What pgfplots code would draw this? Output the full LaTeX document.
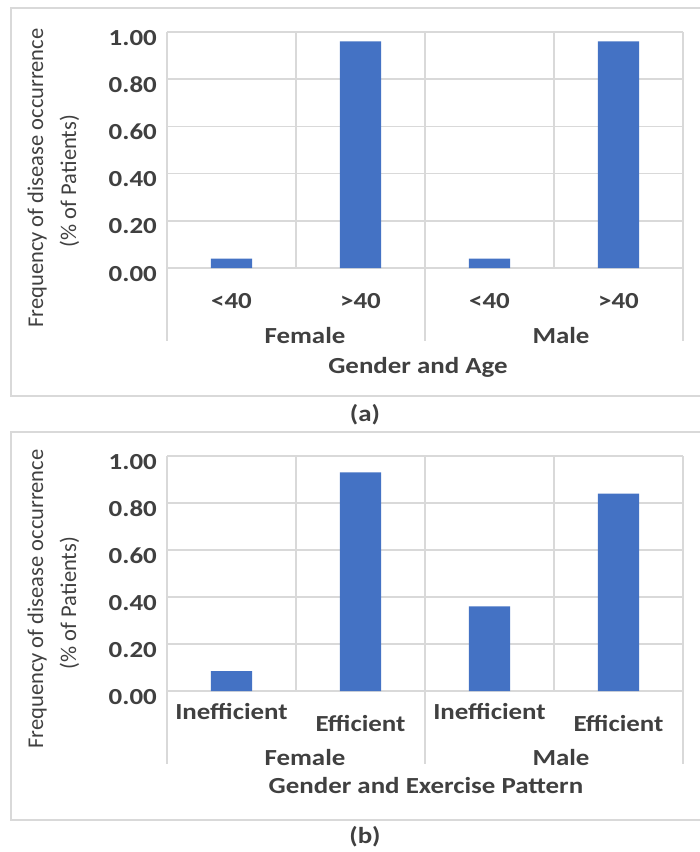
\documentclass[border=0pt]{standalone}
\usepackage{pgfplots}
\usepackage{pgfplotstable}
\pgfplotsset{compat=1.18}
\usepackage{fontspec}
\setmainfont{Carlito}
\newfontfamily\wfont{Carlito}[FakeStretch=1.17]
\definecolor{barc}{HTML}{4472C4}
\definecolor{gridc}{HTML}{D9D9D9}
\definecolor{txt}{HTML}{404040}
\newcommand\lblfont{\wfont\bfseries\fontsize{23}{27}\selectfont\color{txt}}
\newcommand\ylfont{\fontsize{22.5}{33}\selectfont\color{txt}}

\pgfplotstableread{
x y
0 0.04
1 0.96
2 0.04
3 0.96
}\dataA
\pgfplotstableread{
x y
0 0.085
1 0.93
2 0.36
3 0.84
}\dataB

\pgfplotsset{
 panel/.style={
  scale only axis, width=516pt, anchor=south west,
  xmin=-0.5, xmax=3.5, ymin=0, ymax=1,
  axis line style={draw=none},
  major tick length=0pt,
  ytick={0,0.2,0.4,0.6,0.8,1},
  ymajorgrids, major grid style={gridc, line width=1.5pt},
  xtick={0,1,2,3},
  yticklabel style={inner sep=0pt, anchor=base east, xshift=-10pt, yshift=-13pt, font=\lblfont,
    /pgf/number format/fixed, /pgf/number format/fixed zerofill, /pgf/number format/precision=2,
    /pgf/number format/assume math mode=true},
  xticklabel style={inner sep=0pt, anchor=base, yshift=-40pt, font=\lblfont},
  clip=false,
 },
 seps/.style={}
}
\newcommand\gridv{%
  \draw[gridc, line width=1.5pt] (axis cs:-0.5,1) -- (axis cs:-0.5,-0.31);
  \draw[gridc, line width=1.5pt] (axis cs:0.5,1) -- (axis cs:0.5,0);
  \draw[gridc, line width=1.5pt] (axis cs:1.5,1) -- (axis cs:1.5,-0.31);
  \draw[gridc, line width=1.5pt] (axis cs:2.5,1) -- (axis cs:2.5,0);
  \draw[gridc, line width=1.5pt] (axis cs:3.5,1) -- (axis cs:3.5,-0.31);
}

\begin{document}
\begin{tikzpicture}
\useasboundingbox (0,0) rectangle (700pt,-852pt);
\fill[white] (0,0) rectangle (700pt,-852pt);
% outer frames
\draw[gridc, line width=1.5pt] (11pt,-8pt) rectangle (712pt,-396pt);
\draw[gridc, line width=1.5pt] (11pt,-432pt) rectangle (712pt,-820pt);

% panel (a)
\begin{axis}[panel, height=236pt, at={(167pt,-268pt)},
  xticklabels={{<40},{>40},{<40},{>40}}]
\gridv
\addplot[ybar, bar width=0.32, fill=barc, draw=none] table[x=x,y=y] {\dataA};
\end{axis}

% panel (b)
\begin{axis}[panel, height=235pt, at={(167pt,-691pt)},
  xticklabels={{\raisebox{12pt}{Inefficient}},{Efficient},{\raisebox{12pt}{Inefficient}},{Efficient}}]
\gridv
\addplot[ybar, bar width=0.32, fill=barc, draw=none] table[x=x,y=y] {\dataB};
\end{axis}

% group labels and titles (a)
\node[font=\lblfont, anchor=base, inner sep=0pt] at (305pt,-343pt) {Female};
\node[font=\lblfont, anchor=base, inner sep=0pt] at (561pt,-343pt) {Male};
\node[font=\lblfont, anchor=base, inner sep=0pt] at (418pt,-373pt) {Gender and Age};
\node[font=\lblfont, anchor=base, inner sep=0pt] at (365pt,-421pt) {(a)};
\node[font=\ylfont, anchor=base, inner sep=0pt, rotate=90] at (43pt,-178pt) {Frequency of disease occurrence};
\node[font=\ylfont, anchor=base, inner sep=0pt, rotate=90] at (76pt,-181pt) {(\% of Patients)};

% group labels and titles (b)
\node[font=\lblfont, anchor=base, inner sep=0pt] at (305pt,-765pt) {Female};
\node[font=\lblfont, anchor=base, inner sep=0pt] at (561pt,-765pt) {Male};
\node[font=\lblfont, anchor=base, inner sep=0pt] at (426pt,-793pt) {Gender and Exercise Pattern};
\node[font=\lblfont, anchor=base, inner sep=0pt] at (365pt,-843pt) {(b)};
\node[font=\ylfont, anchor=base, inner sep=0pt, rotate=90] at (43pt,-599pt) {Frequency of disease occurrence};
\node[font=\ylfont, anchor=base, inner sep=0pt, rotate=90] at (76pt,-603pt) {(\% of Patients)};
\end{tikzpicture}
\end{document}
